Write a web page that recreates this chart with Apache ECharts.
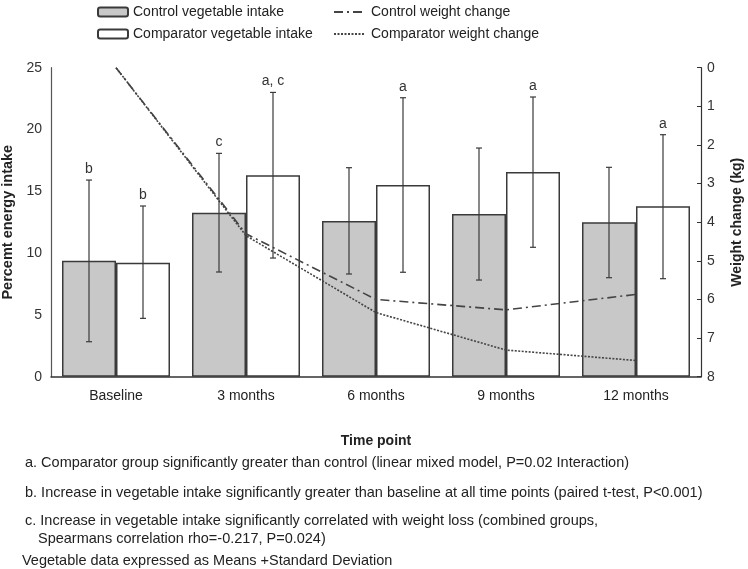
<!DOCTYPE html>
<html><head><meta charset="utf-8">
<script src="https://cdn.jsdelivr.net/npm/echarts@6/dist/echarts.min.js"></script>
<style>html,body{margin:0;padding:0;background:#fff}#c{width:748px;height:569px}</style>
</head><body><div id="c"></div>
<script>
const categories = ['Baseline', '3 months', '6 months', '9 months', '12 months'];
const controlMean = [9.38, 13.27, 12.6, 13.16, 12.49];
const controlLow = [2.83, 8.47, 8.31, 7.82, 8.01];
const controlHigh = [15.91, 18.07, 16.91, 18.5, 16.94];
const comparatorMean = [9.22, 16.3, 15.5, 16.56, 13.79];
const comparatorLow = [4.72, 9.6, 8.45, 10.47, 7.93];
const comparatorHigh = [13.81, 23.0, 22.57, 22.63, 19.58];
const controlLetters = ['b', 'c', '', '', ''];
const comparatorLetters = ['b', 'a, c', 'a', 'a', 'a'];
const controlWeight = [0, 4.3, 6.0, 6.27, 5.87];
const comparatorWeight = [0, 4.35, 6.34, 7.31, 7.58];
const leftTicks = [0, 5, 10, 15, 20, 25];
const rightTicks = [0, 1, 2, 3, 4, 5, 6, 7, 8];
const footnotes = [
  'a. Comparator group significantly greater than control (linear mixed model, P=0.02 Interaction)',
  'b. Increase in vegetable intake significantly greater than baseline at all time points (paired t-test, P<0.001)',
  'c. Increase in vegetable intake significantly correlated with weight loss (combined groups,',
  'Spearmans correlation rho=-0.217, P=0.024)',
  'Vegetable data expressed as Means +Standard Deviation'
];

const FONT = "'Liberation Sans', Arial, sans-serif";
const BAR_W = 54;
const INK = '#333';

function errData(low, high) {
  return categories.map((c, i) => [i, low[i], high[i]]);
}

function makeRender(letters, side) {
  return function (params, api) {
    const i = api.value(0), lo = api.value(1), hi = api.value(2);
    const letter = letters[params.dataIndex];
    const pLo = api.coord([i, lo]);
    const pHi = api.coord([i, hi]);
    const x = pLo[0] + side * BAR_W / 2;
    const cap = 3;
    const st = { stroke: '#3a3a3a', lineWidth: 1.2 };
    const children = [
      { type: 'line', shape: { x1: x, y1: pLo[1], x2: x, y2: pHi[1] }, style: st },
      { type: 'line', shape: { x1: x - cap, y1: pLo[1], x2: x + cap, y2: pLo[1] }, style: st },
      { type: 'line', shape: { x1: x - cap, y1: pHi[1], x2: x + cap, y2: pHi[1] }, style: st }
    ];
    if (letter) {
      children.push({ type: 'text', style: { x: x, y: pHi[1] - 4, text: letter, textAlign: 'center', textVerticalAlign: 'bottom', font: '14px ' + FONT, fill: '#333' } });
    }
    return { type: 'group', children };
  };
}

const chart = echarts.init(document.getElementById('c'), null, { renderer: 'canvas' });
const noteEls = [
  { x: 25, y: 463, t: footnotes[0] },
  { x: 25, y: 493, t: footnotes[1] },
  { x: 25, y: 521, t: footnotes[2] },
  { x: 38, y: 539, t: footnotes[3] },
  { x: 22, y: 561, t: footnotes[4] }
].map(n => ({ type: 'text', left: n.x, top: n.y - 8, style: { text: n.t, font: '14.5px ' + FONT, fill: '#222' } }));

chart.setOption({
  animation: false,
  backgroundColor: '#fff',
  textStyle: { fontFamily: FONT },
  grid: { left: 51, right: 47, top: 67.7, bottom: 192.3, containLabel: false, outerBoundsMode: 'none' },
  legend: [
    { data: ['Control vegetable intake', 'Comparator vegetable intake'], orient: 'vertical', left: 92, top: 0, itemGap: 8, itemWidth: 30, itemHeight: 9, icon: 'roundRect', textStyle: { fontSize: 14, color: '#222', fontFamily: FONT } },
    { data: ['Control weight change', 'Comparator weight change'], orient: 'vertical', left: 328, top: 0, itemGap: 8, itemWidth: 30, itemHeight: 9,
      itemStyle: { opacity: 0 },
      textStyle: { fontSize: 14, color: '#222', fontFamily: FONT, padding: [0, 0, 0, 2] } }
  ],
  xAxis: {
    type: 'category', data: categories,
    axisLine: { lineStyle: { color: INK, width: 1.5 } },
    axisTick: { show: false },
    axisLabel: { fontSize: 14, color: '#222', margin: 12, fontFamily: FONT },
    name: 'Time point', nameLocation: 'middle', nameGap: 57,
    nameTextStyle: { fontSize: 14, fontWeight: 'bold', color: '#222', fontFamily: FONT }
  },
  yAxis: [
    {
      type: 'value', min: leftTicks[0], max: leftTicks[leftTicks.length - 1], interval: 5,
      axisLine: { show: true, lineStyle: { color: '#555', width: 1.2 } },
      axisTick: { show: false }, splitLine: { show: false },
      axisLabel: { fontSize: 14, color: '#333', margin: 9, fontFamily: FONT },
      name: 'Percemt energy intake', nameLocation: 'middle', nameGap: 30, nameRotate: 90,
      nameTextStyle: { fontSize: 14.5, fontWeight: 'bold', color: '#222', fontFamily: FONT }
    },
    {
      type: 'value', position: 'right', inverse: true, min: rightTicks[0], max: rightTicks[rightTicks.length - 1], interval: 1,
      axisLine: { show: true, lineStyle: { color: INK, width: 1.2 } },
      axisTick: { show: true, inside: true, length: 4, lineStyle: { color: INK } }, splitLine: { show: false },
      axisLabel: { fontSize: 14, color: '#333', margin: 6, fontFamily: FONT },
      name: 'Weight change (kg)', nameLocation: 'middle', nameGap: 29, nameRotate: 90,
      nameTextStyle: { fontSize: 14, fontWeight: 'bold', color: '#222', fontFamily: FONT }
    }
  ],
  series: [
    { name: 'Control vegetable intake', type: 'bar', data: controlMean, barWidth: BAR_W, barGap: '0%', yAxisIndex: 0,
      itemStyle: { color: '#c8c8c8', borderColor: '#3a3a3a', borderWidth: 1.5 }, z: 2 },
    { name: 'Comparator vegetable intake', type: 'bar', data: comparatorMean, barWidth: BAR_W, barGap: '0%', yAxisIndex: 0,
      itemStyle: { color: '#ffffff', borderColor: '#3a3a3a', borderWidth: 1.5 }, z: 2 },
    { name: 'Control weight change', type: 'line', data: controlWeight, yAxisIndex: 1, symbol: 'none', z: 3,
      lineStyle: { color: '#444', width: 1.6, type: [9, 4, 2, 4] }, itemStyle: { color: '#444' } },
    { name: 'Comparator weight change', type: 'line', data: comparatorWeight, yAxisIndex: 1, symbol: 'none', z: 3,
      lineStyle: { color: '#444', width: 1.6, type: [2, 1.5] }, itemStyle: { color: '#444' } },
    { name: 'ctrlErr', type: 'custom', yAxisIndex: 0, data: errData(controlLow, controlHigh), renderItem: makeRender(controlLetters, -1), z: 4, silent: true },
    { name: 'compErr', type: 'custom', yAxisIndex: 0, data: errData(comparatorLow, comparatorHigh), renderItem: makeRender(comparatorLetters, 1), z: 4, silent: true }
  ],
  graphic: noteEls
});
</script></body></html>
